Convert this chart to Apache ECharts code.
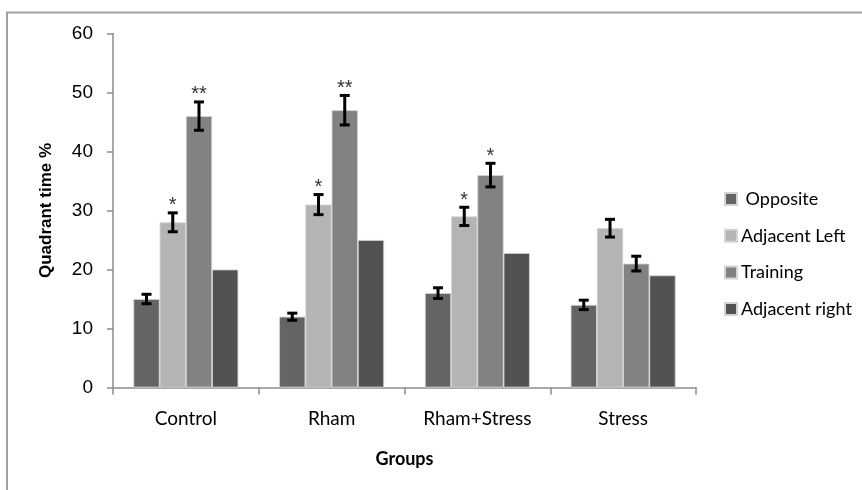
<!DOCTYPE html>
<html>
<head>
<meta charset="utf-8">
<script src="https://cdn.jsdelivr.net/npm/echarts@6/dist/echarts.min.js"></script>
<style>
  html, body { margin: 0; padding: 0; background: #fff; }
  #chart { width: 862px; height: 490px; }
</style>
</head>
<body>
<div id="chart"></div>
<script>
// Quadrant time per group and quadrant
const categories = ['Control', 'Rham', 'Rham+Stress', 'Stress'];
const seriesNames = [' Opposite', 'Adjacent Left', 'Training', 'Adjacent right'];

const opposite      = [15, 12, 16, 14];
const adjacentLeft  = [28, 31, 29, 27];
const training      = [46, 47, 36, 21];
const adjacentRight = [20, 25, 22.8, 19];

// standard errors (no error bars on "Adjacent right")
const oppositeErr     = [0.8, 0.6, 0.9, 0.8];
const adjacentLeftErr = [1.6, 1.7, 1.55, 1.5];
const trainingErr     = [2.4, 2.5, 2.0, 1.25];

// significance markers
const adjacentLeftSig = ['*', '*', '*', ''];
const trainingSig     = ['**', '**', '*', ''];

const yTicks = { min: 0, max: 60, interval: 10 };

const colors = ['#646464', '#b4b4b4', '#828282', '#525252'];
const values = [opposite, adjacentLeft, training, adjacentRight];
const errors = [oppositeErr, adjacentLeftErr, trainingErr, null];
const sigs   = [null, adjacentLeftSig, trainingSig, null];

const CATEGORY_GAP = 0.28;
const N = seriesNames.length;

const chart = echarts.init(document.getElementById('chart'), null, { renderer: 'canvas' });

const barSeries = values.map((vals, i) => ({
  name: seriesNames[i],
  type: 'bar',
  data: vals,
  barGap: '0%',
  barCategoryGap: (CATEGORY_GAP * 100) + '%',
  itemStyle: { color: colors[i], borderColor: '#d4d4d4', borderWidth: 0.8 },
  emphasis: { disabled: true }
}));

// error bars and significance stars drawn over each bar
const errSeries = [];
errors.forEach((errs, i) => {
  if (!errs) return;
  const data = categories.map((c, k) => [k, values[i][k], errs[k], sigs[i] ? sigs[i][k] : '']);
  errSeries.push({
    type: 'custom',
    silent: true,
    z: 5,
    data: data,
    encode: { x: 0, y: 1 },
    renderItem: function (params, api) {
      const k = api.value(0);
      const v = api.value(1);
      const e = api.value(2);
      const sig = data[params.dataIndex][3];
      const catW = api.size([1, 0])[0];
      const barW = catW * (1 - CATEGORY_GAP) / N;
      const center = api.coord([k, v]);
      const x = center[0] + (i - (N - 1) / 2) * barW;
      const yTop = api.coord([k, v + e])[1];
      const yBot = api.coord([k, v - e])[1];
      const cap = 5;
      const style = { stroke: '#000', lineWidth: 3, fill: null };
      const children = [
        { type: 'line', shape: { x1: x, y1: yTop, x2: x, y2: yBot }, style: style },
        { type: 'line', shape: { x1: x - cap, y1: yTop, x2: x + cap, y2: yTop }, style: style },
        { type: 'line', shape: { x1: x - cap, y1: yBot, x2: x + cap, y2: yBot }, style: style }
      ];
      if (sig) {
        children.push({
          type: 'text',
          style: {
            text: sig, x: x, y: yTop + 3,
            align: 'center', verticalAlign: 'bottom',
            fill: '#333', font: '20px "Liberation Sans", Arial, sans-serif'
          }
        });
      }
      return { type: 'group', children: children };
    }
  });
});

const axisGray = '#8c8c8c';
const labelFont = 'Lato';

chart.setOption({
  animation: false,
  backgroundColor: '#fff',
  grid: { left: 113, right: 166, top: 33.5, bottom: 102.5, containLabel: false },
  graphic: [
    {
      type: 'rect',
      shape: { x: 7, y: 12.5, width: 900, height: 600 },
      style: { fill: null, stroke: '#a0a0a0', lineWidth: 2 },
      silent: true
    }
  ],
  legend: {
    orient: 'vertical',
    left: 719,
    top: 184,
    itemWidth: 12,
    itemHeight: 12,
    itemGap: 16.7,
    icon: 'rect',
    selectedMode: false,
    data: seriesNames,
    textStyle: { fontFamily: labelFont, fontSize: 18, color: '#000', lineHeight: 20, padding: [0, 0, 0, -1] }
  },
  xAxis: {
    type: 'category',
    data: categories,
    name: 'Groups',
    nameLocation: 'middle',
    nameGap: 63,
    nameTextStyle: { fontFamily: labelFont, fontSize: 18, fontWeight: 'bold', color: '#000' },
    axisLine: { lineStyle: { color: axisGray, width: 1.5 } },
    axisTick: { show: true, length: 7, lineStyle: { color: axisGray, width: 1.5 } },
    axisLabel: { fontFamily: labelFont, fontSize: 19, color: '#000', margin: 22 }
  },
  yAxis: {
    type: 'value',
    min: yTicks.min,
    max: yTicks.max,
    interval: yTicks.interval,
    name: 'Quadrant time %',
    nameLocation: 'middle',
    nameGap: 58,
    nameTextStyle: { fontFamily: '"Liberation Sans", Arial, sans-serif', fontSize: 17, fontWeight: 'bold', color: '#000' },
    axisLine: { show: true, lineStyle: { color: axisGray, width: 1.5 } },
    axisTick: { show: true, length: 6, lineStyle: { color: axisGray, width: 1.5 } },
    axisLabel: { fontFamily: '"Liberation Sans", Arial, sans-serif', fontSize: 19, color: '#000', margin: 20 },
    splitLine: { show: false }
  },
  series: barSeries.concat(errSeries)
});
</script>
</body>
</html>
